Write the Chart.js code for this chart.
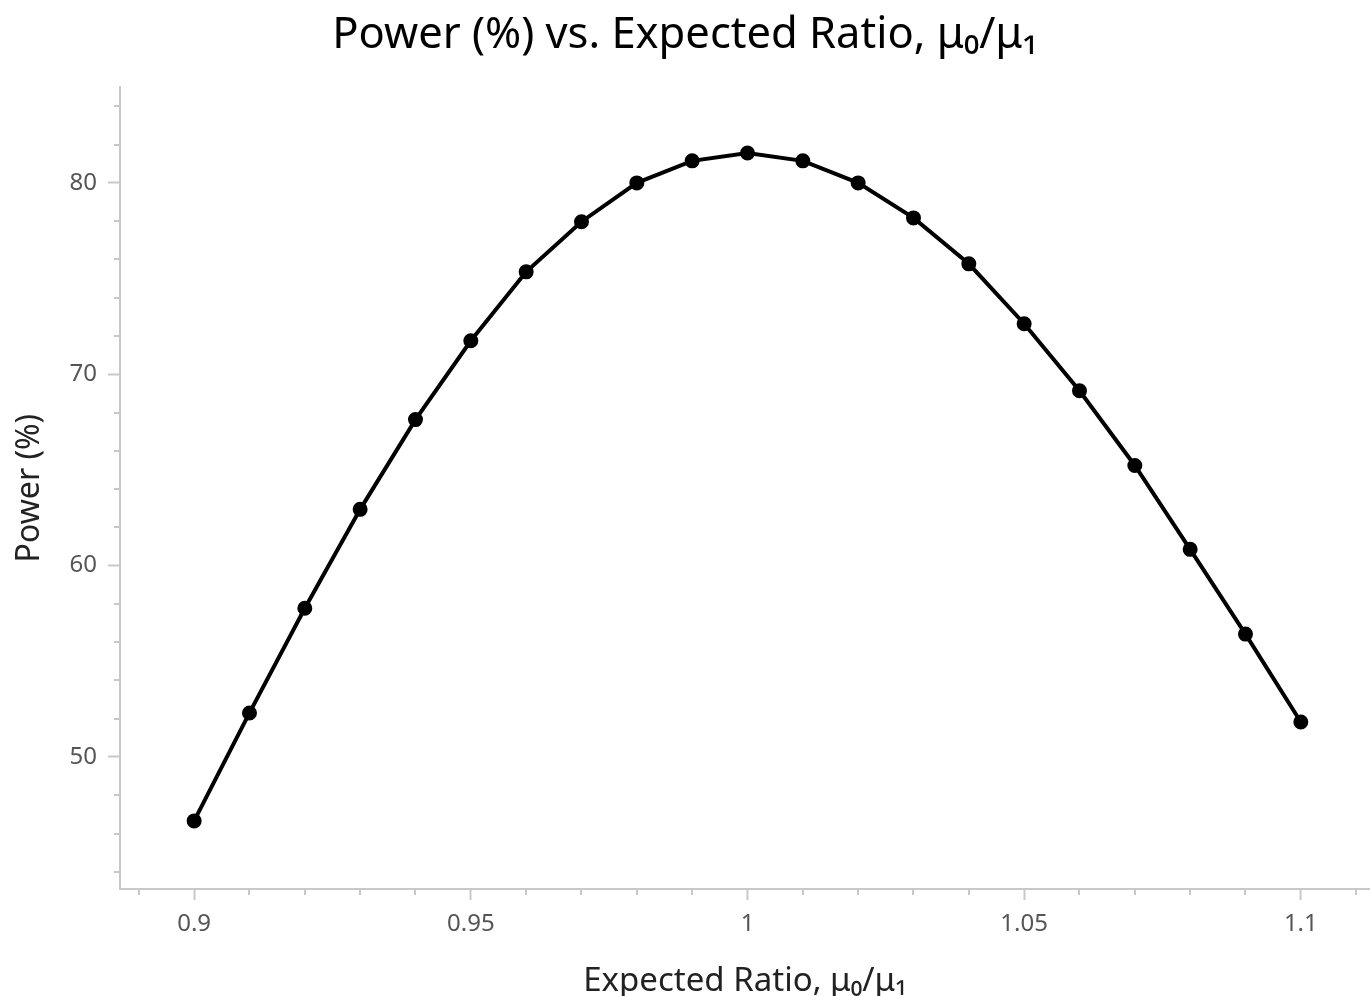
<!DOCTYPE html>
<html>
<head>
<meta charset="utf-8">
<script src="https://cdn.jsdelivr.net/npm/chart.js"></script>
<style>
  html, body { margin: 0; padding: 0; background: #fff; overflow: hidden; }
  #wrap { width: 1370px; height: 996px; }
</style>
</head>
<body>
<div id="wrap"><canvas id="chart"></canvas></div>
<script>
const ratios = [0.90, 0.91, 0.92, 0.93, 0.94, 0.95, 0.96, 0.97, 0.98, 0.99, 1.00,
                1.01, 1.02, 1.03, 1.04, 1.05, 1.06, 1.07, 1.08, 1.09, 1.10];
const power = [46.66, 52.3, 57.77, 62.94, 67.63, 71.75, 75.35, 77.97, 80.0, 81.15, 81.56,
               81.15, 80.0, 78.17, 75.77, 72.64, 69.14, 65.23, 60.85, 56.42, 51.83];
const xTicks = [0.9, 0.95, 1, 1.05, 1.1];
const yTicks = [50, 60, 70, 80];

const FONT = "'Noto Sans', 'Open Sans', sans-serif";
const AXIS = '#c8c8c8';

// small unlabelled ticks: every 0.01 on x, every 2 on y
const minorTicks = {
  id: 'minorTicks',
  afterDraw(chart) {
    const { ctx, chartArea, scales } = chart;
    ctx.save();
    ctx.strokeStyle = AXIS;
    ctx.lineWidth = 2;
    for (let i = 89; i <= 111; i++) {
      if (i % 5 === 0) continue;
      const px = Math.round(scales.x.getPixelForValue(i / 100));
      ctx.beginPath();
      ctx.moveTo(px, chartArea.bottom);
      ctx.lineTo(px, chartArea.bottom + 6);
      ctx.stroke();
    }
    for (let v = 44; v <= 84; v += 2) {
      if (v % 10 === 0) continue;
      const py = Math.round(scales.y.getPixelForValue(v));
      ctx.beginPath();
      ctx.moveTo(chartArea.left, py);
      ctx.lineTo(chartArea.left - 6, py);
      ctx.stroke();
    }
    ctx.restore();
  }
};

new Chart(document.getElementById('chart'), {
  type: 'line',
  data: {
    datasets: [{
      data: ratios.map((r, i) => ({ x: r, y: power[i] })),
      borderColor: '#000',
      backgroundColor: '#000',
      borderWidth: 4,
      pointRadius: 5.5,
      pointHoverRadius: 5.5,
      tension: 0
    }]
  },
  options: {
    responsive: true,
    maintainAspectRatio: false,
    animation: false,
    layout: { padding: 0, autoPadding: false },
    plugins: {
      legend: { display: false },
      tooltip: { enabled: false },
      title: {
        display: true,
        text: 'Power (%) vs. Expected Ratio, μ₀/μ₁',
        color: '#000',
        font: { family: FONT, size: 43.5, weight: 'normal', lineHeight: 1.2 },
        padding: { top: 10, bottom: 25 }
      }
    },
    scales: {
      x: {
        type: 'linear',
        min: 0.8866,
        max: 1.1125,
        afterBuildTicks(scale) { scale.ticks = xTicks.map(v => ({ value: v })); },
        afterFit(scale) {
          scale.height = 107;
          scale.paddingLeft = 0;
          scale.paddingRight = 0;
        },
        ticks: {
          color: '#555',
          font: { family: FONT, size: 24 },
          padding: 10,
          maxRotation: 0,
          callback: v => String(v)
        },
        grid: { drawOnChartArea: false, drawTicks: true, tickLength: 11, tickWidth: 2, tickColor: AXIS },
        border: { color: AXIS, width: 2 },
        title: {
          display: true,
          text: 'Expected Ratio, μ₀/μ₁',
          color: '#222',
          font: { family: FONT, size: 33, lineHeight: 0.9 },
          padding: { top: 6, bottom: 0 }
        }
      },
      y: {
        min: 43.1,
        max: 85,
        afterBuildTicks(scale) { scale.ticks = yTicks.map(v => ({ value: v })); },
        afterFit(scale) {
          scale.width = 120;
          scale.paddingTop = 0;
          scale.paddingBottom = 0;
        },
        ticks: {
          color: '#555',
          font: { family: FONT, size: 24 },
          padding: 11,
          callback: v => String(v)
        },
        grid: { drawOnChartArea: false, drawTicks: true, tickLength: 12, tickWidth: 2, tickColor: AXIS },
        border: { color: AXIS, width: 2 },
        title: {
          display: true,
          text: 'Power (%)',
          color: '#222',
          font: { family: FONT, size: 32 },
          padding: { top: 11, bottom: 6 }
        }
      }
    }
  },
  plugins: [minorTicks]
});
</script>
</body>
</html>
